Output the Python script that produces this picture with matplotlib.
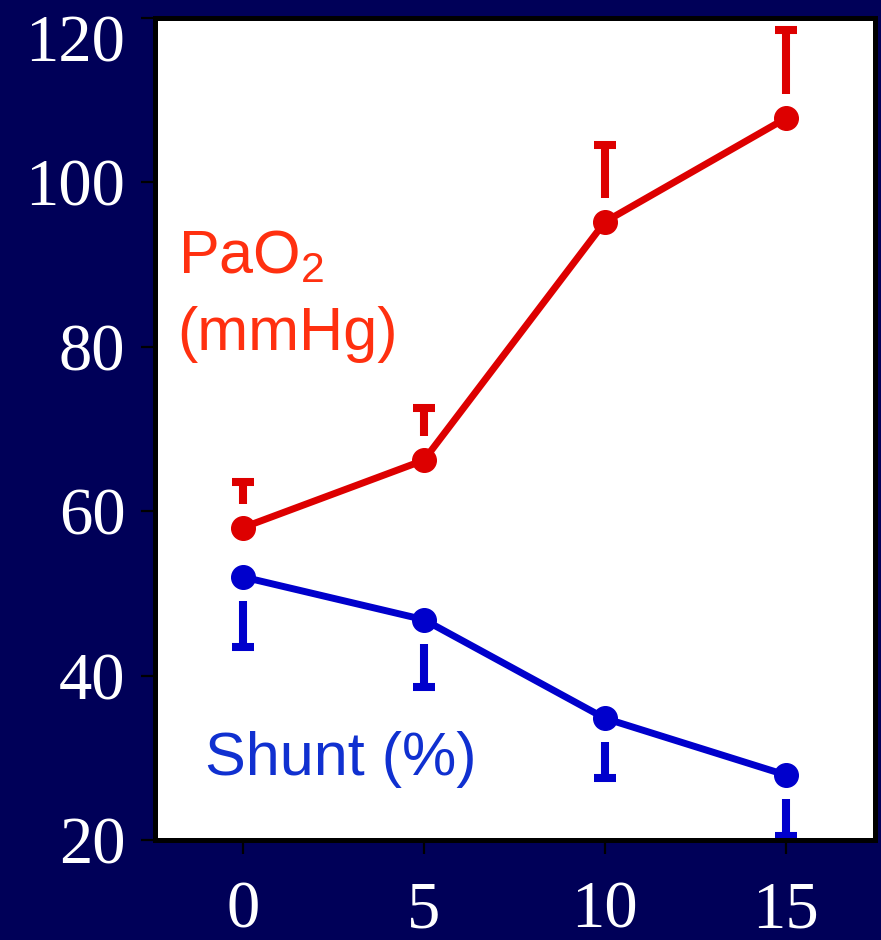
"""
PaO2 and shunt fraction versus PEEP, redrawn from the slide.
"""
import matplotlib
matplotlib.use("Agg")
import matplotlib.pyplot as plt
from matplotlib.transforms import ScaledTranslation

# data
peep = [0, 5, 10, 15]
pao2 = [58.0, 66.2, 95.2, 107.8]
pao2_upper = [63.6, 72.6, 104.5, 118.5]
shunt = [52.0, 46.8, 34.8, 27.9]
shunt_lower = [43.5, 38.6, 27.5, 20.5]

y_ticks = [20, 40, 60, 80, 100, 120]
x_ticks = [0, 5, 10, 15]

BG = "#000058"
RED = "#dd0000"
BLUE = "#0000cc"
GAP = 2.9  # error bars start a little away from the marker


def draw_bars(ax, x, mean, end, color):
    """One-sided error bars with a small gap off the marker."""
    for xi, m, e in zip(x, mean, end):
        sign = 1 if e > m else -1
        ax.vlines(xi, m + sign * GAP, e, color=color, lw=5.8, zorder=2)
    ax.plot(x, end, ls="none", marker="_", ms=16, mew=5.8,
            color=color, zorder=2, clip_on=False)


if __name__ == "__main__":
    plt.rcParams["mathtext.fontset"] = "custom"
    plt.rcParams["mathtext.rm"] = "Liberation Sans"

    fig = plt.figure(figsize=(8.81, 9.4), dpi=100, facecolor=BG)
    ax = fig.add_axes([0.1754, 0.1064, 0.8178, 0.8745])
    ax.set_facecolor("white")

    draw_bars(ax, peep, pao2, pao2_upper, RED)
    draw_bars(ax, peep, shunt, shunt_lower, BLUE)

    ax.plot(peep, pao2, color=RED, lw=5, marker="o", ms=17, zorder=3,
            clip_on=False)
    ax.plot(peep, shunt, color=BLUE, lw=5, marker="o", ms=17, zorder=3,
            clip_on=False)

    ax.set_xlim(-2.44, 17.46)
    ax.set_ylim(20, 120)
    ax.set_xticks(x_ticks)
    ax.set_yticks(y_ticks)

    for s in ax.spines.values():
        s.set_linewidth(3.6)
        s.set_color("black")
    ax.tick_params(axis="both", direction="out", length=10, width=1.6,
                   color="black", labelcolor="white", labelsize=48)
    ax.tick_params(axis="y", pad=11)
    ax.tick_params(axis="x", pad=19)
    for lab in ax.get_xticklabels() + ax.get_yticklabels():
        lab.set_fontfamily("Liberation Serif")
    # the top label sits a bit lower on the slide
    top = ax.get_yticklabels()[-1]
    top.set_transform(top.get_transform()
                      + ScaledTranslation(0, -0.2, fig.dpi_scale_trans))

    # series labels
    ax.text(-1.8, 89.0, r"PaO$_2$", color="#ff3010", fontsize=44,
            family="Liberation Sans", va="baseline")
    ax.text(-1.8, 79.6, "(mmHg)", color="#ff3010", fontsize=44,
            family="Liberation Sans", va="baseline")
    ax.text(-1.05, 27.9, "Shunt (%)", color="#1030d0", fontsize=44,
            family="Liberation Sans", va="baseline")

    fig.savefig("out.png", dpi=100, facecolor=BG)
